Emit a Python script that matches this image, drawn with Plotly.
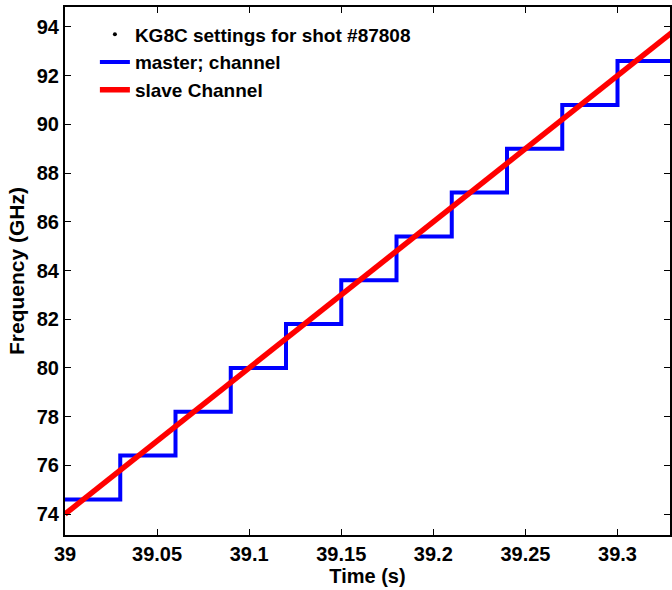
import plotly.graph_objects as go

# KG8C frequency settings, shot #87808
step_times = [39.00, 39.03, 39.06, 39.09, 39.12, 39.15, 39.18, 39.21, 39.24, 39.27, 39.30, 39.34]
master_freq = [74.6, 76.4, 78.2, 80.0, 81.8, 83.6, 85.4, 87.2, 89.0, 90.8, 92.6, 92.6]

slave_times = [39.00, 39.34]
slave_freq = [74.0, 94.4]

FONT = "Liberation Sans, Arial, sans-serif"

fig = go.Figure()

# legend-only header entry
fig.add_trace(go.Scatter(
    x=[None], y=[None], mode="markers",
    marker=dict(color="black", size=4),
    name="KG8C settings for shot #87808",
))

fig.add_trace(go.Scatter(
    x=step_times, y=master_freq, mode="lines",
    line=dict(color="#0000ff", width=4, shape="hv"),
    name="master; channel",
))

fig.add_trace(go.Scatter(
    x=slave_times, y=slave_freq, mode="lines",
    line=dict(color="#ff0000", width=5.5),
    name="slave Channel",
))

axis_common = dict(
    showline=True, linecolor="black", linewidth=2,
    mirror="ticks", ticks="inside", ticklen=6, tickwidth=1, tickcolor="black",
    showgrid=False, zeroline=False,
    tickfont=dict(family=FONT, size=20, color="black", weight="bold"),
)

fig.update_layout(
    width=672, height=590,
    margin=dict(l=65, r=0, t=7, b=55),
    plot_bgcolor="white", paper_bgcolor="white",
    font=dict(family=FONT, color="black"),
    xaxis=dict(
        range=[39.0, 39.3285],
        tickvals=[39, 39.05, 39.1, 39.15, 39.2, 39.25, 39.3],
        ticktext=["39", "39.05", "39.1", "39.15", "39.2", "39.25", "39.3"],
        title=dict(text="Time (s)", standoff=4,
                   font=dict(family=FONT, size=20, color="black", weight="bold")),
        **axis_common,
    ),
    yaxis=dict(
        range=[73.14, 94.82],
        tickvals=list(range(74, 95, 2)),
        title=dict(text="Frequency (GHz)", standoff=6,
                   font=dict(family=FONT, size=21, color="black", weight="bold")),
        **axis_common,
    ),
    legend=dict(
        x=0.0494, y=0.984, xanchor="left", yanchor="top",
        bgcolor="rgba(0,0,0,0)", borderwidth=0,
        font=dict(family=FONT, size=19, color="black", weight="bold"),
        tracegroupgap=0, itemwidth=30,
    ),
    showlegend=True,
)

fig.write_html("out.html")
